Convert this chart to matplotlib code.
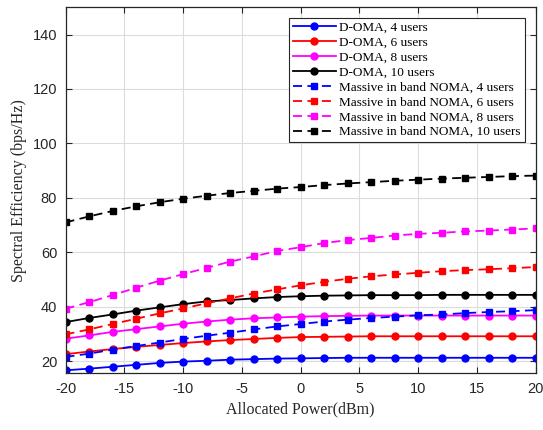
import matplotlib
matplotlib.use("Agg")
import matplotlib.pyplot as plt
import numpy as np

power_dbm = [-20, -18, -16, -14, -12, -10, -8, -6, -4, -2, 0, 2, 4, 6, 8, 10, 12, 14, 16, 18, 20]

doma_4 = [16.7, 17.3, 18.0, 18.7, 19.4, 19.9, 20.2, 20.6, 20.8, 21.0, 21.1, 21.2, 21.3, 21.3, 21.3, 21.3, 21.3, 21.3, 21.3, 21.3, 21.3]
doma_6 = [22.6, 23.6, 24.5, 25.3, 26.0, 26.7, 27.3, 27.8, 28.2, 28.6, 28.9, 29.0, 29.1, 29.2, 29.2, 29.2, 29.2, 29.2, 29.2, 29.2, 29.2]
doma_8 = [28.3, 29.5, 30.8, 31.8, 32.8, 33.8, 34.6, 35.3, 35.8, 36.1, 36.4, 36.6, 36.7, 36.8, 36.8, 36.8, 36.8, 36.8, 36.8, 36.8, 36.8]
doma_10 = [34.4, 35.9, 37.2, 38.6, 39.8, 41.0, 42.0, 42.5, 43.1, 43.6, 43.9, 44.1, 44.2, 44.3, 44.3, 44.3, 44.4, 44.4, 44.4, 44.4, 44.4]

noma_4 = [21.6, 22.8, 24.3, 25.6, 26.9, 28.2, 29.4, 30.5, 31.7, 32.8, 33.7, 34.6, 35.3, 35.9, 36.4, 36.9, 37.2, 37.7, 38.1, 38.4, 38.8]
noma_6 = [29.9, 31.7, 33.7, 35.6, 37.6, 39.4, 41.3, 43.1, 44.9, 46.4, 47.9, 49.2, 50.3, 51.2, 51.9, 52.5, 53.1, 53.5, 53.8, 54.2, 54.6]
noma_8 = [39.3, 41.7, 44.3, 47.0, 49.6, 52.0, 54.3, 56.6, 58.5, 60.5, 61.9, 63.4, 64.5, 65.3, 66.2, 66.8, 67.2, 67.7, 68.0, 68.4, 68.8]
noma_10 = [71.0, 73.2, 75.2, 76.9, 78.4, 79.7, 80.8, 81.8, 82.6, 83.4, 84.0, 84.7, 85.3, 85.8, 86.3, 86.7, 87.1, 87.4, 87.7, 88.0, 88.2]

labels = ["D-OMA, 4 users", "D-OMA, 6 users", "D-OMA, 8 users", "D-OMA, 10 users",
          "Massive in band NOMA, 4 users", "Massive in band NOMA, 6 users",
          "Massive in band NOMA, 8 users", "Massive in band NOMA, 10 users"]
xticks = [-20, -15, -10, -5, 0, 5, 10, 15, 20]
yticks = [20, 40, 60, 80, 100, 120, 140]

colors = ["#0000ff", "#ff0000", "#ff00ff", "#000000"]

fig = plt.figure(figsize=(5.43, 4.30), dpi=100)
ax = fig.add_axes([65.5/543, 1 - 373.3/430, (535.5-65.5)/543, (373.3-7.3)/430])

for c, y, lab in zip(colors, [doma_4, doma_6, doma_8, doma_10], labels[:4]):
    ax.plot(power_dbm, y, '-', color=c, marker='o', markersize=5, linewidth=1.3, label=lab)
for c, y, lab in zip(colors, [noma_4, noma_6, noma_8, noma_10], labels[4:]):
    ax.plot(power_dbm, y, '--', color=c, marker='s', markersize=5, linewidth=1.3,
            dashes=(5, 3), label=lab)

ax.set_xlim(-20, 20)
ax.set_ylim(15.6, 150)
ax.set_xticks(xticks)
ax.set_xticklabels([str(t) for t in xticks], family="Liberation Sans", fontsize=10.5)
ax.set_yticks(yticks)
ax.set_yticklabels([str(t) for t in yticks], family="Liberation Sans", fontsize=10.5)
ax.grid(True, color="#dcdcdc", linewidth=0.8)
ax.set_axisbelow(True)
ax.tick_params(direction='in', top=True, right=True, length=4, color="#262626", labelcolor="#262626", pad=6)
for s in ax.spines.values():
    s.set_color("#262626")
    s.set_linewidth(0.9)

ax.set_xlabel("Allocated Power(dBm)", family="Liberation Serif", fontsize=11.5, color="#262626")
ax.set_ylabel("Spectral Efficiency (bps/Hz)", family="Liberation Serif", fontsize=11.5, color="#262626")

leg = ax.legend(loc="upper right", prop={"family": "Liberation Serif", "size": 9.5},
                fancybox=False, edgecolor="#262626", framealpha=1, handlelength=3.2,
                labelspacing=0.2, borderpad=0.3, handletextpad=0.3, borderaxespad=0.8)
leg.get_frame().set_linewidth(0.8)

fig.savefig("out.png", dpi=100)
